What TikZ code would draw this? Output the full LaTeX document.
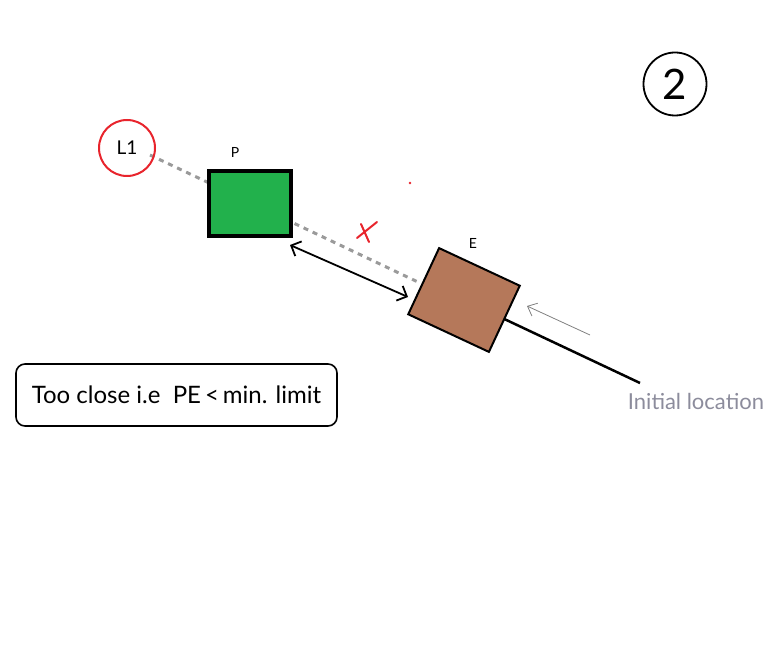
\documentclass[tikz,border=0pt]{standalone}
\usepackage{fontspec}
\setmainfont{Lato}
\usetikzlibrary{arrows.meta,backgrounds}
\definecolor{pgreen}{HTML}{22B14C}
\definecolor{ebrown}{HTML}{B5785A}
\definecolor{dgray}{HTML}{9A9A9A}
\definecolor{tgray}{HTML}{8C8C9C}
\definecolor{lred}{HTML}{E8242C}
\tikzset{
  box/.style={draw=black, rectangle, inner sep=0pt},
  lbl/.style={inner sep=0pt, font=\fontsize{14}{16}\selectfont},
  dashline/.style={draw=dgray, line width=3pt, dash pattern=on 5pt off 5pt},
  barb/.style={line width=1.8pt, {Straight Barb[length=8pt,width=16pt]}-{Straight Barb[length=8pt,width=16pt]}},
}
\begin{document}
\begin{tikzpicture}[x=1pt,y=-1pt]
\useasboundingbox (0,0) rectangle (768,660);
% dashed line behind P
\coordinate (d1) at (150,155);
\coordinate (d2) at (420,283);
\draw[dashline] (d1) -- (d2);
% E box
\node[box, line width=2pt, fill=ebrown, rotate=-25, minimum width=89pt, minimum height=73pt] (E) at (464,300) {};
% trail line from E to initial location (behind E)
\coordinate (init) at (640,383);
\begin{scope}[on background layer]
\draw[line width=2.5pt] (E.center) -- (init);
\end{scope}
% L1 circle
\node[circle, draw=lred, line width=2pt, minimum size=56pt, inner sep=0pt, font=\fontsize{19}{21}\selectfont] (L1) at (127,148) {L1};
% P box
\node[box, line width=3.5pt, fill=pgreen, minimum width=82pt, minimum height=65pt] (P) at (250,203.5) {};
\node[lbl] (Plbl) at (235,152) {P};
\node[lbl] (Elbl) at (473,243) {E};
% double arrow
\coordinate (a1) at (290,245);
\coordinate (a2) at (408,297);
\draw[barb] (a1) -- (a2);
% red x
\draw[lred, line width=2pt, line cap=round] (357,238) -- (377,222);
\draw[lred, line width=2pt, line cap=round] (361,224) -- (369,242);
\fill[lred] (410,183) circle (1.4pt);
% thin gray arrow
\coordinate (g1) at (590,335);
\coordinate (g2) at (527,306);
\draw[gray, line width=0.8pt, -{Straight Barb[length=8pt,width=14pt]}] (g1) -- (g2);
% initial location text
\node[inner sep=0pt, text=tgray, font=\fontsize{22}{25}\selectfont] (initlbl) at (696,401) {Initial location};
% info box
\node[draw=black, line width=1.6pt, rounded corners=9pt, minimum width=321pt, minimum height=62pt, inner sep=0pt, font=\fontsize{24}{28}\selectfont] (info) at (176.5,395) {Too close i.e\ \ PE\,<\,min. limit};
% circled 2
\node[circle, draw=black, line width=1.8pt, minimum size=63pt, inner sep=0pt, font=\fontsize{42}{46}\selectfont] (two) at (675,84) {2};
\end{tikzpicture}
\end{document}
